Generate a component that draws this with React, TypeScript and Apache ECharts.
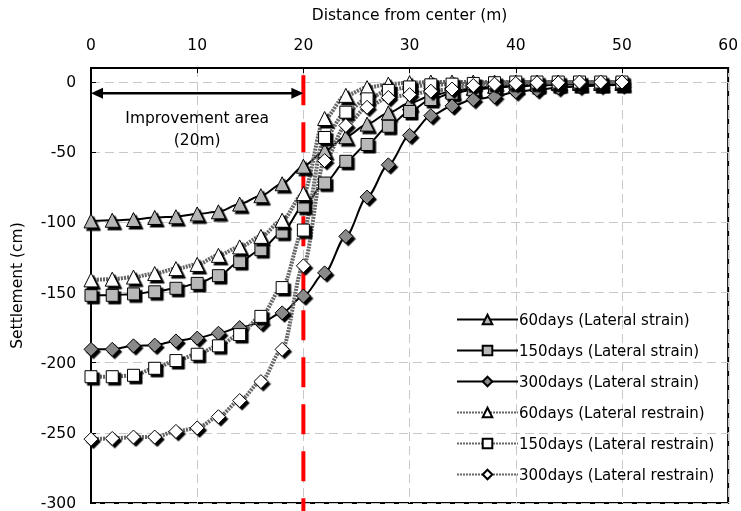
import React, { useEffect, useRef } from "react";
import * as echarts from "echarts";

const distances = [0, 2, 4, 6, 8, 10, 12, 14, 16, 18, 20, 22, 24, 26, 28, 30, 32, 34, 36, 38, 40, 42, 44, 46, 48, 50];

const strain60 = [-99, -98.5, -98, -96.5, -96, -94, -92.5, -87, -81, -72.5, -60, -49, -39, -30, -22, -15, -10, -6.5, -4.5, -3, -2, -1.5, -1, -1, -1, -1];
const strain150 = [-152, -152, -151, -149.5, -147, -143.5, -138, -128, -119.5, -107, -88.5, -72, -56.5, -44.5, -31.5, -21, -12.5, -8, -5.5, -4, -3, -2.5, -2, -1.5, -1.5, -1];
const strain300 = [-190.5, -190.5, -188, -187.5, -184.5, -182.5, -179, -175, -171.5, -164.5, -152.5, -136, -110, -82, -59, -38, -24, -17, -12.5, -10.5, -7, -5.5, -4, -3, -2.5, -2];
const restrain60 = [-141, -140.5, -139, -136.5, -133, -130, -123.5, -117.5, -110, -98.5, -79.5, -26, -9.5, -4, -1.5, -0.5, 0, 0, 0, 0, 0, 0, 0, 0, 0, 0];
const restrain150 = [-210, -210, -209, -204, -198.5, -194, -188, -180, -167, -146.5, -105.5, -39.5, -21.5, -12, -6, -3.5, -2, -1.5, -1, -0.5, 0, 0, 0, 0, 0, 0];
const restrain300 = [-254.5, -254, -253, -253, -249, -246.5, -238.5, -227, -213.5, -190.5, -131, -56, -31, -18, -11, -9, -6.5, -5, -2.5, -1.5, -1, -0.5, -0.5, 0, 0, 0];

const seriesNames = [
  "60days (Lateral strain)",
  "150days (Lateral strain)",
  "300days (Lateral strain)",
  "60days (Lateral restrain)",
  "150days (Lateral restrain)",
  "300days (Lateral restrain)",
];

const improvementWidth = 20;
const FONT = "DejaVu Sans";

function pairs(values: number[]) {
  return distances.map((d, i) => [d, values[i]]);
}

export default function App() {
  const ref = useRef<HTMLDivElement>(null);
  useEffect(() => {
    if (!ref.current) return;
    const chart = echarts.init(ref.current, undefined, { renderer: "svg" });
    const shadow = { shadowColor: "#000", shadowOffsetX: 2.5, shadowOffsetY: 2.5, shadowBlur: 0 };
    const strainLine = { color: "#000", width: 2 };
    const restrainLine = { color: "#666", width: 4, type: [2, 1] as any };
    const mk = (name: string, data: number[], symbol: string, size: number, fill: string, line: any) => ({
      name,
      type: "line",
      data: pairs(data),
      symbol,
      symbolSize: size,
      smooth: 0.3,
      smoothMonotone: "x",
      showAllSymbol: true,
      lineStyle: line,
      itemStyle: { color: fill, borderColor: "#000", borderWidth: 1, ...shadow },
      emphasis: { disabled: true },
    });
    chart.setOption({
      animation: false,
      textStyle: { fontFamily: FONT },
      grid: { left: 91, right: 10, top: 68, bottom: 8, show: true, borderColor: "#000", borderWidth: 2 },
      legend: {
        orient: "vertical",
        left: 451,
        top: 307,
        itemWidth: 61,
        itemHeight: 12,
        itemGap: 16,
        textStyle: { fontFamily: FONT, fontSize: 15, color: "#000", padding: [0, 0, 0, -4] },
        data: seriesNames,
      },
      xAxis: {
        type: "value",
        position: "top",
        min: 0,
        max: 60,
        interval: 10,
        name: "Distance from center (m)",
        nameLocation: "middle",
        nameGap: 45,
        nameTextStyle: { fontFamily: FONT, fontSize: 15.5, color: "#000" },
        axisLine: { show: true, onZero: false, lineStyle: { color: "#000", width: 2 } },
        axisTick: { show: true, inside: true, length: 5, lineStyle: { color: "#000" } },
        axisLabel: { fontFamily: FONT, fontSize: 15.5, color: "#000", margin: 15 },
        splitLine: { show: true, lineStyle: { color: "#c8c8c8", type: [9, 5] } },
      },
      yAxis: {
        type: "value",
        min: -300,
        max: 10,
        interval: 50,
        name: "Settlement (cm)",
        nameLocation: "middle",
        nameGap: 66,
        nameTextStyle: { fontFamily: FONT, fontSize: 15.5, color: "#000" },
        axisLine: { show: true, onZero: false, lineStyle: { color: "#000", width: 2 } },
        axisTick: { show: true, inside: true, length: 5, lineStyle: { color: "#000" } },
        axisLabel: {
          fontFamily: FONT,
          fontSize: 15.5,
          color: "#000",
          margin: 15,
          formatter: (v: number) => (v > 0 ? "" : String(v)),
        },
        splitLine: { show: true, lineStyle: { color: "#c8c8c8", type: [9, 5] } },
      },
      series: [
        mk(seriesNames[0], strain60, "triangle", 14, "#b4b4b4", strainLine),
        mk(seriesNames[1], strain150, "rect", 12, "#b8b8b8", strainLine),
        mk(seriesNames[2], strain300, "diamond", 14, "#8a8a8a", strainLine),
        mk(seriesNames[3], restrain60, "triangle", 14, "#fff", restrainLine),
        mk(seriesNames[4], restrain150, "rect", 12, "#fff", restrainLine),
        mk(seriesNames[5], restrain300, "diamond", 14, "#fff", restrainLine),
      ],
    });

    const p = (x: number, y: number) => chart.convertToPixel({ gridIndex: 0 }, [x, y]) as number[];
    const a0 = p(0, -8);
    const a1 = p(improvementWidth, -8);
    const r0 = p(improvementWidth, 4.8);
    const r1 = p(improvementWidth, -305.7);
    const t = p(improvementWidth / 2, -33.5);
    const head = 12;
    const hw = 5.5;
    chart.setOption({
      graphic: [
        {
          type: "line",
          z: 1,
          shape: { x1: r0[0], y1: r0[1], x2: r1[0], y2: r1[1] },
          style: { stroke: "#ff0000", lineWidth: 4, lineDash: [30, 17] },
        },
        {
          type: "line",
          z: 1,
          shape: { x1: a0[0] + head - 1, y1: a0[1], x2: a1[0] - head + 1, y2: a1[1] },
          style: { stroke: "#000", lineWidth: 2.5 },
        },
        {
          type: "polygon",
          z: 1,
          shape: { points: [[a0[0], a0[1]], [a0[0] + head, a0[1] - hw], [a0[0] + head, a0[1] + hw]] },
          style: { fill: "#000" },
        },
        {
          type: "polygon",
          z: 1,
          shape: { points: [[a1[0], a1[1]], [a1[0] - head, a1[1] - hw], [a1[0] - head, a1[1] + hw]] },
          style: { fill: "#000" },
        },
        {
          type: "text",
          z: 1,
          x: t[0],
          y: t[1],
          style: {
            text: "Improvement area\n(20m)",
            fontFamily: FONT,
            fontSize: 15.5,
            lineHeight: 22,
            fill: "#000",
            align: "center",
            verticalAlign: "middle",
          },
        },
      ],
    });
    return () => chart.dispose();
  }, []);
  return <div ref={ref} style={{ position: "fixed", left: 0, top: 0, width: 741, height: 511 }} />;
}
